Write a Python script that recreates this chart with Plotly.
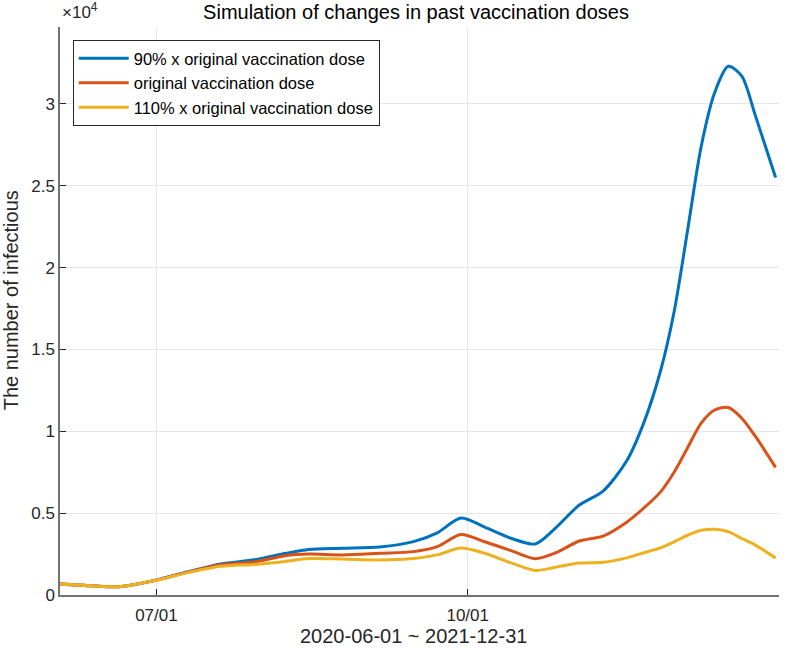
import plotly.graph_objects as go

dates = ['2021-06-02', '2021-06-12', '2021-06-20', '2021-07-01', '2021-07-10',
         '2021-07-20', '2021-07-30', '2021-08-08', '2021-08-15', '2021-08-25',
         '2021-09-05', '2021-09-15', '2021-09-22', '2021-09-29', '2021-10-06',
         '2021-10-14', '2021-10-21', '2021-10-27', '2021-11-03', '2021-11-10',
         '2021-11-17', '2021-11-22', '2021-11-27', '2021-12-01', '2021-12-05',
         '2021-12-09', '2021-12-13', '2021-12-17', '2021-12-21', '2021-12-25',
         '2021-12-31']

dose_90 = [670, 560, 510, 920, 1400, 1900, 2150, 2530, 2780, 2850,
           2930, 3260, 3800, 4700, 4150, 3450, 3120, 4100, 5500, 6350,
           8200, 10500, 13700, 17300, 22300, 27400, 30700, 32300, 31700, 29300,
           25500]
dose_100 = [670, 560, 510, 910, 1380, 1850, 2020, 2400, 2500, 2450,
            2550, 2650, 2950, 3700, 3250, 2700, 2220, 2580, 3300, 3600,
            4450, 5300, 6300, 7500, 9000, 10500, 11300, 11450, 10800, 9700,
            7800]
dose_110 = [670, 560, 510, 900, 1350, 1750, 1870, 2050, 2230, 2200,
            2140, 2230, 2450, 2870, 2550, 1950, 1500, 1700, 1950, 2000,
            2270, 2580, 2880, 3250, 3650, 3950, 4020, 3870, 3450, 3050,
            2260]

series = [
    ('90% x original vaccination dose', dose_90, '#0072BD'),
    ('original vaccination dose', dose_100, '#D95319'),
    ('110% x original vaccination dose', dose_110, '#EDB120'),
]

ytick_vals = [0, 5000, 10000, 15000, 20000, 25000, 30000]
ytick_text = ['0', '0.5', '1', '1.5', '2', '2.5', '3']
xtick_vals = ['2021-07-01', '2021-10-01', '2022-01-01']
xtick_text = ['07/01', '10/01', '01/01']

fig = go.Figure()
for name, vals, color in series:
    fig.add_trace(go.Scatter(x=dates, y=vals, name=name, mode='lines',
                             line=dict(color=color, width=3, shape='spline', smoothing=0.8)))

axis_col = '#737373'
fig.update_layout(
    width=800, height=648,
    margin=dict(l=60, r=21, t=27, b=53, autoexpand=False),
    paper_bgcolor='white', plot_bgcolor='white',
    font=dict(family='Liberation Sans, Arial, sans-serif', size=17, color='#262626'),
    title=dict(text='Simulation of changes in past vaccination doses',
               x=0.52, xanchor='center', y=0.981, yanchor='middle',
               font=dict(size=20, color='#000000')),
    showlegend=True,
    legend=dict(x=0.0177, y=0.977, xanchor='left', yanchor='top',
                bgcolor='white', bordercolor='#262626', borderwidth=1,
                itemwidth=50,
                font=dict(size=16.5, color='#000000'), tracegroupgap=0),
)
fig.update_xaxes(
    range=['2021-06-02 12:00', '2022-01-01'],
    tickvals=xtick_vals, ticktext=xtick_text,
    showgrid=True, gridcolor='#e6e6e6', gridwidth=1,
    showline=True, linecolor=axis_col, linewidth=1.5,
    ticks='inside', ticklen=6, tickcolor='#262626',
    ticklabelstandoff=4,
    zeroline=False, automargin=False,
)
fig.update_yaxes(
    range=[0, 34700],
    tickvals=ytick_vals, ticktext=ytick_text,
    showgrid=True, gridcolor='#e6e6e6', gridwidth=1,
    showline=True, linecolor=axis_col, linewidth=1.5,
    ticks='inside', ticklen=6, tickcolor='#262626',
    zeroline=False, automargin=False,
)
# axis titles and the exponent label, placed like the MATLAB figure
fig.add_annotation(text='2020-06-01 ~ 2021-12-31', xref='paper', yref='paper',
                   x=0.492, y=-0.072, xanchor='center', yanchor='middle',
                   showarrow=False, font=dict(size=20, color='#262626'))
fig.add_annotation(text='The number of infectious', xref='paper', yref='paper',
                   x=-0.068, y=0.519, xanchor='center', yanchor='middle', textangle=-90,
                   showarrow=False, font=dict(size=20, color='#262626'))
fig.add_annotation(text='×10<sup>4</sup>', xref='paper', yref='paper',
                   x=0.0, y=1.0, xanchor='left', yanchor='bottom', yshift=3,
                   showarrow=False, font=dict(size=17, color='#262626'))

# drop the default 8px page margin so the figure fills the window exactly
fig.write_html('out.html', config={'displayModeBar': False},
               post_script="document.body.style.margin='0px';")
